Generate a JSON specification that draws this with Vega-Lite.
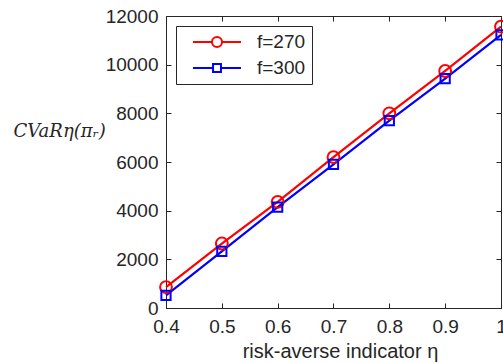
{
  "$schema": "https://vega.github.io/schema/vega-lite/v6.json",
  "width": 335,
  "height": 292,
  "autosize": {"type": "none"},
  "padding": {"left": 166, "top": 16, "right": 2, "bottom": 55},
  "background": "white",
  "config": {
    "view": {"stroke": "#262626", "strokeWidth": 1},
    "axis": {
      "domainColor": "#262626",
      "tickColor": "#262626",
      "labelColor": "#262626",
      "titleColor": "#262626",
      "labelFont": "Liberation Sans",
      "labelFontSize": 19,
      "labelFlush": false,
      "labelOverlap": false,
      "grid": false,
      "tickSize": -5,
      "tickWidth": 1
    }
  },
  "data": {
    "values": [
      {"eta": 0.4, "series": "f=270", "cvar": 860},
      {"eta": 0.5, "series": "f=270", "cvar": 2650},
      {"eta": 0.6, "series": "f=270", "cvar": 4360},
      {"eta": 0.7, "series": "f=270", "cvar": 6200},
      {"eta": 0.8, "series": "f=270", "cvar": 8000},
      {"eta": 0.9, "series": "f=270", "cvar": 9740},
      {"eta": 1.0, "series": "f=270", "cvar": 11560},
      {"eta": 0.4, "series": "f=300", "cvar": 520},
      {"eta": 0.5, "series": "f=300", "cvar": 2330},
      {"eta": 0.6, "series": "f=300", "cvar": 4150},
      {"eta": 0.7, "series": "f=300", "cvar": 5900},
      {"eta": 0.8, "series": "f=300", "cvar": 7700},
      {"eta": 0.9, "series": "f=300", "cvar": 9430},
      {"eta": 1.0, "series": "f=300", "cvar": 11220}
    ]
  },
  "layer": [
    {
      "mark": {"type": "line", "strokeWidth": 2.2},
      "encoding": {
        "x": {
          "field": "eta", "type": "quantitative",
          "scale": {"domain": [0.4, 1], "nice": false, "zero": false},
          "axis": {
            "orient": "bottom",
            "values": [0.4, 0.5, 0.6, 0.7, 0.8, 0.9, 1],
            "format": ".1~f",
            "labelPadding": 14,
            "title": "risk-averse indicator   η",
            "titleFont": "Liberation Sans",
            "titleFontSize": 20,
            "titleFontWeight": "normal",
            "titleAlign": "center",
            "titleBaseline": "middle",
            "titleX": 174,
            "titleY": 43
          }
        },
        "y": {
          "field": "cvar", "type": "quantitative",
          "scale": {"domain": [0, 12000], "nice": false},
          "axis": {
            "orient": "left",
            "values": [0, 2000, 4000, 6000, 8000, 10000, 12000],
            "format": "d",
            "labelPadding": 13,
            "title": "CVaRη(πᵣ)",
            "titleFont": "DejaVu Serif",
            "titleFontStyle": "italic",
            "titleFontWeight": "normal",
            "titleFontSize": 18,
            "titleAngle": 0,
            "titleAlign": "left",
            "titleBaseline": "middle",
            "titleX": -153,
            "titleY": 115
          }
        },
        "color": {
          "field": "series", "type": "nominal",
          "scale": {"domain": ["f=270", "f=300"], "range": ["#ff0000", "#0000ff"]},
          "legend": {
            "title": null,
            "orient": "top-left",
            "offset": 10,
            "padding": 6,
            "rowPadding": 6,
            "strokeColor": "#262626",
            "fillColor": "white",
            "labelFont": "Liberation Sans",
            "labelFontSize": 19,
            "labelColor": "#262626",
            "labelExpr": "datum.label + '  '",
            "symbolSize": 324,
            "symbolStrokeWidth": 2,
            "symbolFillColor": "transparent",
            "symbolOffset": 25,
            "labelOffset": 30,
            "symbolType": {"expr": "datum.value == 'f=270' ? 'M-2.67,0H-0.56M0.56,0H2.67M0.56,0A0.56,0.56,0,1,1,-0.56,0A0.56,0.56,0,1,1,0.56,0' : 'M-2.67,0H-0.44M0.44,0H2.67M-0.44,-0.44H0.44V0.44H-0.44Z'"}
          }
        }
      }
    },
    {
      "transform": [{"filter": "datum.series == 'f=270'"}],
      "mark": {"type": "point", "shape": "circle", "size": 140, "filled": false, "strokeWidth": 2, "opacity": 1},
      "encoding": {
        "x": {"field": "eta", "type": "quantitative", "axis": null},
        "y": {"field": "cvar", "type": "quantitative", "axis": null},
        "color": {"field": "series", "type": "nominal", "legend": null}
      }
    },
    {
      "transform": [{"filter": "datum.series == 'f=300'"}],
      "mark": {"type": "point", "shape": "square", "size": 85, "filled": false, "strokeWidth": 2, "opacity": 1},
      "encoding": {
        "x": {"field": "eta", "type": "quantitative", "axis": null},
        "y": {"field": "cvar", "type": "quantitative", "axis": null},
        "color": {"field": "series", "type": "nominal", "legend": null}
      }
    },
    {
      "mark": {"type": "point", "opacity": 0},
      "encoding": {
        "x": {
          "field": "eta", "type": "quantitative",
          "axis": {"orient": "top", "labels": false, "title": null, "values": [0.4, 0.5, 0.6, 0.7, 0.8, 0.9, 1]}
        },
        "y": {
          "field": "cvar", "type": "quantitative",
          "axis": {"orient": "right", "labels": false, "title": null, "values": [0, 2000, 4000, 6000, 8000, 10000, 12000]}
        }
      }
    }
  ],
  "resolve": {"axis": {"x": "independent", "y": "independent"}}
}
